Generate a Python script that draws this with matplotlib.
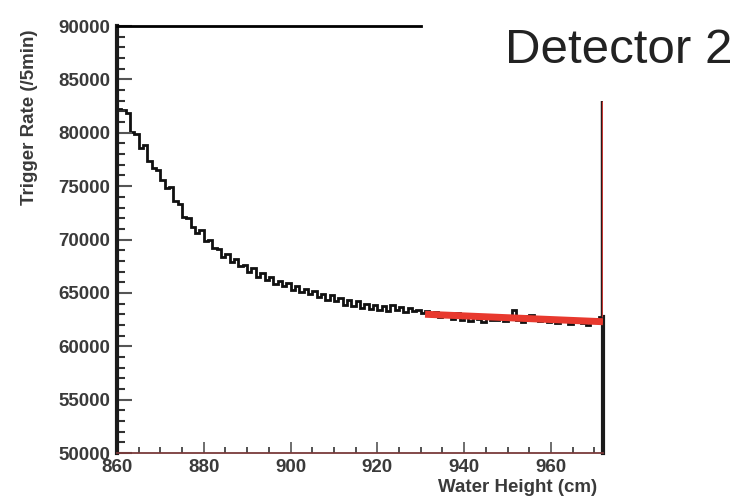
import numpy as np
import matplotlib.pyplot as plt
from matplotlib.ticker import MultipleLocator

# trigger rate per 1 cm water-height bin, starting at 860 cm
bin_start = 860
bin_width = 1
rate = [82200, 82100, 81900, 80100, 79900, 78600, 78900, 77400, 76700, 76500,
        75600, 74800, 74900, 73600, 73300, 72100, 72000, 71200, 70600, 70900,
        69900, 70000, 69200, 69100, 68400, 68600, 67900, 68200, 67500, 67600,
        67000, 67300, 66500, 66900, 66200, 66500, 65800, 66100, 65600, 65900,
        65300, 65600, 65100, 65400, 64900, 65200, 64600, 64900, 64300, 64800,
        64200, 64500, 63900, 64300, 63800, 64200, 63600, 64000, 63500, 63900,
        63400, 63800, 63300, 63900, 63400, 63700, 63200, 63600, 63300, 63400,
        63100, 63300, 62900, 63200, 62700, 63000, 62800, 62600, 63100, 62500,
        62900, 62400, 62800, 62600, 62300, 62700, 62500, 62500, 62700, 62400,
        62600, 63400, 62500, 62300, 62800, 62900, 62600, 62400, 62700, 62300,
        62500, 62200, 62400, 62600, 62100, 62300, 62500, 62200, 62000, 62400,
        62600, 62700]

# linear fit over the flat part
fit_height = [931, 972]
fit_rate = [63000, 62300]

# cut marker at the top of the water
cut_top = 83000
frame_top_end = 930

edges = bin_start + bin_width * np.arange(len(rate) + 1)
cut_height = edges[-1]

fig = plt.figure(figsize=(7.47, 5.01), dpi=100)
ax = fig.add_axes([0.1566, 0.0958, 0.6506, 0.8522])

ax.stairs(rate, edges, color='#111111', lw=2.0, baseline=None)
ax.plot(fit_height, fit_rate, color='#e8392e', lw=5, solid_capstyle='butt', zorder=3)
ax.vlines(cut_height, rate[-1], cut_top, color='#2a1a1a', lw=3.2, zorder=4)
ax.vlines(cut_height, rate[-1], cut_top, color='#d63a35', lw=2.0, zorder=5)

ax.set_xlim(860, cut_height)
ax.set_ylim(50000, 90000)

ax.spines['left'].set_linewidth(3)
ax.spines['left'].set_color('#1a1a1a')
ax.spines['bottom'].set_linewidth(1.3)
ax.spines['bottom'].set_color('#7a3a3a')
ax.spines['top'].set_linewidth(2)
ax.spines['top'].set_bounds(860, frame_top_end)
ax.spines['right'].set_linewidth(3)
ax.spines['right'].set_color('#1a1a1a')
ax.spines['right'].set_bounds(50000, rate[-1])

ax.xaxis.set_major_locator(MultipleLocator(20))
ax.xaxis.set_minor_locator(MultipleLocator(5))
ax.yaxis.set_major_locator(MultipleLocator(5000))
ax.yaxis.set_minor_locator(MultipleLocator(1000))

lab_font = dict(family='Liberation Sans', weight='bold', size=13.5)
ax.tick_params(axis='y', which='major', direction='in', length=11, width=1.5,
               color='#555555', pad=5, labelcolor='#3a3a3a')
ax.tick_params(axis='y', which='minor', direction='in', length=6, width=1.5,
               color='#333333')
ax.tick_params(axis='x', which='major', direction='in', length=8, width=1.2,
               color='#555555', pad=4, labelcolor='#3a3a3a')
ax.tick_params(axis='x', which='minor', direction='in', length=4, width=1.2,
               color='#333333')
for t in ax.get_xticklabels() + ax.get_yticklabels():
    t.set_fontproperties(lab_font)

fig.text(30 / 747, 0.766, 'Trigger Rate (/5min)', rotation=90, ha='center',
         va='center', color='#3a3a3a', **lab_font)
fig.text(597 / 747, 0.026, 'Water Height (cm)', ha='right', va='center',
         color='#3a3a3a', **lab_font)
fig.text(505 / 747, 0.874, 'Detector 2', ha='left', va='baseline',
         family='Liberation Sans', size=35.5, color='#222222')

fig.savefig('out.png', dpi=100)
